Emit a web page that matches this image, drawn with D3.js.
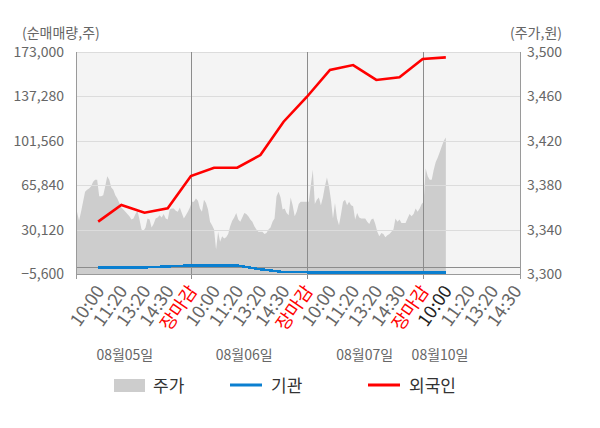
<!DOCTYPE html>
<html>
<head>
<meta charset="utf-8">
<script src="https://cdn.jsdelivr.net/npm/d3@7"></script>
<style>
  body { margin: 0; background: #fff; }
  svg { font-family: "Noto Sans CJK KR", "Noto Sans", sans-serif; }
</style>
</head>
<body>
<svg id="chart" width="600" height="428"></svg>
<script>
/*global d3*/

// x-axis slot labels (slot 1 .. 19)
var slotLabels = ['10:00', '11:20', '13:20', '14:30', '장마감',
                  '10:00', '11:20', '13:20', '14:30', '장마감',
                  '10:00', '11:20', '13:20', '14:30', '장마감',
                  '10:00', '11:20', '13:20', '14:30'];
var dayLabels = ['08월05일', '08월06일', '08월07일', '08월10일'];
var daySlots = [2.15, 7.3, 12.5, 15.75];
var dayBreaks = [5, 10, 15];

var leftTicks = [-5600, 30120, 65840, 101560, 137280, 173000];
var rightTicks = [3300, 3340, 3380, 3420, 3460, 3500];

// 외국인 / 기관 net buy volume at slots 1 .. 16
var foreign = [36500, 49900, 43700, 47200, 73200, 79900, 79900, 90100,
               116900, 136800, 158500, 162500, 150500, 152600, 167400, 168700];
var inst = [-300, -300, -300, 500, 1300, 1300, 1300, -1800,
            -4000, -4200, -4300, -4300, -4300, -4300, -4300, -4300];

// 주가, evenly spaced from slot 0 to slot 16
var price = [
  3355, 3356, 3348, 3356, 3365, 3374, 3376, 3377, 3379, 3383, 3385, 3385,
  3370, 3370, 3371, 3379, 3388, 3385, 3378, 3376, 3371, 3368, 3364, 3360,
  3358, 3356, 3354, 3352, 3349, 3350, 3354, 3357, 3349, 3340, 3339, 3342,
  3350, 3349, 3342, 3345, 3350, 3351, 3353, 3351, 3354, 3350, 3349, 3358,
  3359, 3359, 3357, 3356, 3360, 3355, 3350, 3353, 3356, 3360, 3365, 3365,
  3368, 3366, 3359, 3356, 3367, 3364, 3358, 3347, 3344, 3340, 3322, 3338,
  3329, 3334, 3332, 3333, 3336, 3343, 3348, 3351, 3355, 3349, 3347, 3351,
  3355, 3354, 3352, 3349, 3347, 3343, 3340, 3338, 3338, 3338, 3336, 3337,
  3340, 3342, 3347, 3350, 3370, 3374, 3369, 3358, 3359, 3355, 3353, 3369,
  3362, 3352, 3356, 3363, 3365, 3365, 3365, 3365, 3365, 3380, 3394, 3363,
  3367, 3369, 3362, 3369, 3379, 3387, 3379, 3367, 3350, 3364, 3350, 3344,
  3354, 3365, 3367, 3362, 3365, 3362, 3361, 3349, 3355, 3351, 3350, 3350,
  3350, 3347, 3345, 3349, 3350, 3345, 3338, 3334, 3337, 3336, 3333, 3335,
  3336, 3338, 3340, 3350, 3347, 3349, 3346, 3346, 3346, 3350, 3354, 3352,
  3354, 3359, 3356, 3359, 3363, 3365, 3395, 3388, 3385, 3385, 3394, 3401,
  3405, 3410, 3415, 3420, 3423
];
var priceSpan = [0, 16];

var svg = d3.select('#chart');
var pLeft = 76, pRight = 520, pTop = 52, pBottom = 274;

var x = d3.scaleLinear().domain([0, 19.2]).range([75, pRight]);
var yL = d3.scaleLinear().domain([-5600, 173000]).range([pBottom, pTop]);
var yR = d3.scaleLinear().domain([3300, 3500]).range([pBottom, pTop]);

svg.append('clipPath').attr('id', 'plot')
  .append('rect')
    .attr('x', pLeft).attr('y', pTop)
    .attr('width', pRight - pLeft).attr('height', pBottom - pTop);

svg.append('rect')
    .attr('x', pLeft).attr('y', pTop)
    .attr('width', pRight - pLeft).attr('height', pBottom - pTop)
    .attr('fill', '#f4f4f4');

var priceX = d3.scaleLinear().domain([0, price.length - 1]).range(priceSpan);

svg.append('path')
    .datum(price)
    .attr('clip-path', 'url(#plot)')
    .attr('fill', '#cdcdcd')
    .attr('d', d3.area()
      .x(function (d, i) { return x(priceX(i)); })
      .y0(pBottom)
      .y1(function (d) { return yR(d); }));

// horizontal grid
svg.append('g')
  .selectAll('line')
  .data(leftTicks.slice(1))
  .enter().append('line')
    .attr('x1', pLeft).attr('x2', pRight)
    .attr('y1', function (d) { return Math.round(yL(d)) + 0.5; })
    .attr('y2', function (d) { return Math.round(yL(d)) + 0.5; })
    .attr('stroke', '#dcdcdc');

svg.append('line')
    .attr('x1', pLeft).attr('x2', pRight)
    .attr('y1', Math.round(yL(0)) + 0.5).attr('y2', Math.round(yL(0)) + 0.5)
    .attr('stroke', '#8c8c8c');

// day separators
svg.append('g')
  .selectAll('line')
  .data(dayBreaks)
  .enter().append('line')
    .attr('x1', function (d) { return Math.round(x(d)) + 0.5; })
    .attr('x2', function (d) { return Math.round(x(d)) + 0.5; })
    .attr('y1', pTop).attr('y2', pBottom + 5)
    .attr('stroke', '#8c8c8c');

// frame
svg.append('line')
    .attr('x1', pLeft).attr('x2', pRight)
    .attr('y1', pBottom + 0.5).attr('y2', pBottom + 0.5)
    .attr('stroke', '#9a9a9a');
[pLeft, pRight].forEach(function (px) {
  svg.append('line')
      .attr('x1', px + 0.5).attr('x2', px + 0.5)
      .attr('y1', pTop).attr('y2', pBottom + 5)
      .attr('stroke', '#9a9a9a');
});

var lineOf = function (scale) {
  return d3.line()
    .x(function (d, i) { return x(i + 1); })
    .y(function (d) { return scale(d); });
};

svg.append('path')
    .datum(inst)
    .attr('fill', 'none')
    .attr('stroke', '#0a7fd0')
    .attr('stroke-width', 2.5)
    .attr('shape-rendering', 'crispEdges')
    .attr('d', lineOf(yL));

svg.append('path')
    .datum(foreign)
    .attr('fill', 'none')
    .attr('stroke', '#ff0000')
    .attr('stroke-width', 2.6)
    .attr('d', lineOf(yL));

// axis labels
svg.append('g')
  .selectAll('text')
  .data(leftTicks)
  .enter().append('text')
    .attr('x', 64)
    .attr('y', function (d) { return yL(d); })
    .attr('dy', '0.35em')
    .attr('text-anchor', 'end')
    .attr('font-size', 14)
    .attr('fill', '#666')
    .text(d3.format(','));

svg.append('g')
  .selectAll('text')
  .data(rightTicks)
  .enter().append('text')
    .attr('x', 527)
    .attr('y', function (d) { return yR(d); })
    .attr('dy', '0.35em')
    .attr('font-size', 14)
    .attr('fill', '#666')
    .text(d3.format(','));

svg.append('text')
    .attr('x', 22).attr('y', 38)
    .attr('font-size', 14).attr('fill', '#666')
    .text('(순매매량,주)');
svg.append('text')
    .attr('x', 562).attr('y', 38)
    .attr('text-anchor', 'end')
    .attr('font-size', 14).attr('fill', '#666')
    .text('(주가,원)');

// rotated slot labels
svg.append('g')
  .selectAll('text')
  .data(slotLabels)
  .enter().append('text')
    .attr('transform', function (d, i) {
      return 'translate(' + (x(i + 1) + 7) + ',291) rotate(-55)';
    })
    .attr('text-anchor', 'end')
    .attr('font-size', 18)
    .attr('fill', function (d, i) {
      if (d === '장마감') { return '#ff0000'; }
      return i === 15 ? '#222' : '#666';
    })
    .text(function (d) { return d; });

svg.append('g')
  .selectAll('text')
  .data(dayLabels)
  .enter().append('text')
    .attr('x', function (d, i) { return x(daySlots[i]); })
    .attr('y', 360)
    .attr('text-anchor', 'middle')
    .attr('font-size', 14)
    .attr('fill', '#666')
    .text(function (d) { return d; });

// legend
var legend = svg.append('g').attr('font-size', 17).attr('fill', '#333');
legend.append('rect')
    .attr('x', 114).attr('y', 379).attr('width', 31).attr('height', 13)
    .attr('fill', '#cdcdcd');
legend.append('text').attr('x', 153).attr('y', 392).text('주가');
legend.append('line')
    .attr('x1', 230).attr('x2', 262).attr('y1', 385).attr('y2', 385)
    .attr('stroke', '#0a7fd0').attr('stroke-width', 3);
legend.append('text').attr('x', 271).attr('y', 392).text('기관');
legend.append('line')
    .attr('x1', 368).attr('x2', 400).attr('y1', 385).attr('y2', 385)
    .attr('stroke', '#ff0000').attr('stroke-width', 3);
legend.append('text').attr('x', 409).attr('y', 392).text('외국인');
</script>
</body>
</html>
